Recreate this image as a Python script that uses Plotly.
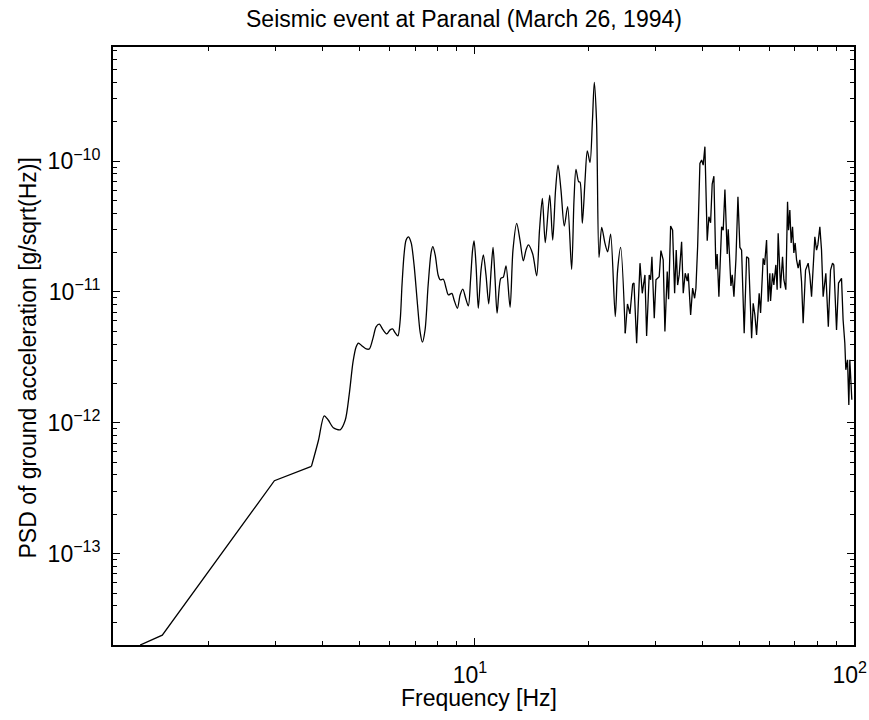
import plotly.graph_objects as go

# Frequency [Hz]
freq_hz = [
    1.32, 1.51, 2.98, 3.73, 3.89, 4.03, 4.13, 4.26, 4.44, 4.58,
    4.69, 4.80, 4.89, 4.96, 5.07, 5.20, 5.30, 5.42, 5.52, 5.63,
    5.76, 5.89, 6.01, 6.10, 6.20, 6.30, 6.39, 6.46, 6.54, 6.62,
    6.72, 6.83, 6.95, 7.08, 7.21, 7.31, 7.43, 7.57, 7.71, 7.79,
    7.90, 8.04, 8.14, 8.30, 8.44, 8.56, 8.74, 8.86, 9.04, 9.19,
    9.34, 9.50, 9.66, 9.79, 9.91, 10.00, 10.12, 10.26, 10.43, 10.58,
    10.75, 10.93, 11.09, 11.22, 11.36, 11.50, 11.76, 11.94, 12.14, 12.44,
    12.66, 12.95, 13.21, 13.48, 13.70, 13.90, 14.27, 14.62, 14.87, 15.13,
    15.40, 15.82, 16.11, 16.39, 16.64, 16.94, 17.28, 17.64, 18.07, 18.33,
    18.55, 18.86, 19.01, 19.28, 19.60, 19.87, 20.20, 20.50, 20.73, 21.01,
    21.33, 21.68, 22.12, 22.48, 22.89, 23.54, 23.88, 24.32, 25.01, 25.35,
    25.73, 26.16, 26.37, 26.80, 27.35, 27.73, 28.18, 28.47, 28.92, 29.17,
    29.40, 29.82, 30.13, 30.73, 31.05, 31.48, 31.81, 32.26, 32.53, 32.93,
    33.33, 33.74, 34.07, 34.36, 34.69, 35.20, 35.55, 35.98, 36.42, 36.64,
    37.18, 37.63, 38.09, 38.39, 38.79, 39.33, 39.74, 40.12, 40.54, 41.11,
    41.53, 41.96, 42.37, 42.81, 43.33, 43.67, 44.13, 44.86, 45.30, 45.77,
    46.41, 46.70, 47.47, 47.84, 48.34, 48.93, 49.53, 50.12, 50.64, 51.44,
    52.20, 52.84, 53.81, 54.33, 54.89, 55.46, 56.34, 56.82, 57.72, 58.21,
    58.92, 59.49, 60.11, 60.36, 61.10, 61.58, 62.33, 62.82, 63.21, 64.13,
    64.91, 65.43, 66.22, 66.91, 67.32, 67.85, 68.39, 68.97, 69.52, 70.07,
    70.67, 71.36, 72.09, 72.84, 73.55, 74.63, 75.82, 76.60, 77.40, 78.24,
    78.96, 79.78, 80.41, 81.39, 82.22, 83.03, 84.40, 85.68, 86.84, 87.90,
    88.59, 90.05, 91.15, 92.82, 93.72, 94.70, 95.27, 96.26, 97.02, 97.61,
    98.38, 98.80,
]

# PSD of ground acceleration [g/sqrt(Hz)]
psd = [
    2.0e-14, 2.38e-14, 3.61e-13, 4.64e-13, 7.29e-13, 1.13e-12, 1.05e-12, 9.16e-13, 8.84e-13, 1.05e-12,
    1.64e-12, 2.92e-12, 3.80e-12, 4.06e-12, 3.87e-12, 3.67e-12, 3.67e-12, 4.46e-12, 5.41e-12, 5.67e-12,
    5.13e-12, 4.78e-12, 5.13e-12, 5.22e-12, 4.86e-12, 4.61e-12, 6.11e-12, 1.13e-11, 1.92e-11, 2.49e-11,
    2.64e-11, 2.37e-11, 1.61e-11, 8.69e-12, 4.95e-12, 4.13e-12, 5.13e-12, 1.13e-11, 2.02e-11, 2.22e-11,
    1.92e-11, 1.35e-11, 1.24e-11, 1.25e-11, 1.07e-11, 9.49e-12, 9.77e-12, 8.69e-12, 7.51e-12, 9.49e-12,
    1.05e-11, 9.0e-12, 7.82e-12, 1.24e-11, 2.09e-11, 2.46e-11, 1.61e-11, 7.51e-12, 1.47e-11, 1.92e-11,
    1.35e-11, 8.10e-12, 1.47e-11, 2.19e-11, 1.24e-11, 6.88e-12, 1.27e-11, 1.30e-11, 1.58e-11, 7.64e-12,
    2.09e-11, 3.35e-11, 2.49e-11, 1.73e-11, 2.09e-11, 2.29e-11, 1.95e-11, 1.33e-11, 2.97e-11, 5.19e-11,
    2.38e-11, 5.50e-11, 2.49e-11, 6.01e-11, 9.32e-11, 6.01e-11, 3.19e-11, 4.48e-11, 1.49e-11, 5.04e-11,
    8.64e-11, 6.95e-11, 6.92e-11, 3.35e-11, 7.16e-11, 1.20e-10, 9.77e-11, 2.06e-10, 3.99e-10, 2.06e-10,
    1.84e-11, 3.12e-11, 2.35e-11, 2.03e-11, 2.77e-11, 6.48e-12, 1.47e-11, 2.19e-11, 4.84e-12, 8.10e-12,
    6.79e-12, 1.15e-11, 1.17e-11, 4.06e-12, 1.66e-11, 9.77e-12, 1.35e-11, 4.61e-12, 1.35e-11, 1.24e-11,
    1.86e-11, 6.30e-12, 1.24e-11, 1.31e-11, 2.07e-11, 1.76e-11, 4.98e-12, 1.43e-11, 8.80e-12, 3.19e-11,
    2.97e-11, 9.77e-12, 2.09e-11, 1.13e-11, 1.35e-11, 2.42e-11, 9.77e-12, 1.39e-11, 1.21e-11, 1.39e-11,
    6.68e-12, 1.07e-11, 8.95e-12, 1.07e-11, 2.22e-11, 9.60e-11, 1.02e-10, 9.32e-11, 1.29e-10, 2.46e-11,
    3.76e-11, 3.38e-11, 6.68e-11, 7.68e-11, 1.49e-11, 1.95e-11, 9.21e-12, 3.15e-11, 2.97e-11, 6.08e-11,
    1.95e-11, 3.01e-11, 1.11e-11, 1.35e-11, 9.21e-12, 1.78e-11, 5.34e-11, 2.19e-11, 2.09e-11, 4.84e-12,
    1.86e-11, 1.81e-11, 4.43e-12, 8.20e-12, 6.68e-12, 4.70e-12, 9.77e-12, 6.92e-12, 1.81e-11, 1.61e-11,
    2.49e-11, 8.43e-12, 1.39e-11, 8.54e-12, 1.39e-11, 1.13e-11, 1.61e-11, 1.04e-11, 2.81e-11, 1.07e-11,
    1.86e-11, 1.24e-11, 1.04e-11, 4.89e-11, 2.97e-11, 4.23e-11, 2.37e-11, 3.15e-11, 1.99e-11, 2.37e-11,
    1.76e-11, 1.52e-11, 1.76e-11, 1.20e-11, 5.77e-12, 1.47e-11, 1.66e-11, 1.33e-11, 9.21e-12, 1.61e-11,
    2.64e-11, 2.09e-11, 2.29e-11, 3.15e-11, 2.09e-11, 9.21e-12, 1.39e-11, 5.43e-12, 1.47e-11, 1.66e-11,
    1.61e-11, 5.13e-12, 1.17e-11, 1.27e-11, 6.11e-12, 4.06e-12, 2.54e-12, 3.03e-12, 1.37e-12, 3.03e-12,
    1.69e-12, 1.50e-12,
]

x_major = [10, 100]
x_major_text = ["10<sup>1</sup>", "10<sup>2</sup>"]
x_minor = [2, 3, 4, 5, 6, 7, 8, 9, 20, 30, 40, 50, 60, 70, 80, 90]

y_major = [1e-13, 1e-12, 1e-11, 1e-10]
y_major_text = ["10<sup>\u221213</sup>", "10<sup>\u221212</sup>",
                "10<sup>\u221211</sup>", "10<sup>\u221210</sup>"]
y_minor = [3e-14, 4e-14, 5e-14, 6e-14, 7e-14, 8e-14, 9e-14,
           2e-13, 3e-13, 4e-13, 5e-13, 6e-13, 7e-13, 8e-13, 9e-13,
           2e-12, 3e-12, 4e-12, 5e-12, 6e-12, 7e-12, 8e-12, 9e-12,
           2e-11, 3e-11, 4e-11, 5e-11, 6e-11, 7e-11, 8e-11, 9e-11,
           2e-10, 3e-10, 4e-10, 5e-10, 6e-10, 7e-10]

title_text = "Seismic event at Paranal (March 26, 1994)"
x_title = "Frequency [Hz]"
y_title = "PSD of ground acceleration [g/sqrt(Hz)]"

FONT = "Liberation Sans, Arial, Helvetica, sans-serif"
FS = 23

# segments: straight low-frequency part, smooth mid part, jagged high part
i_a, i_b = 3, 108
line_style = dict(color="black", width=1.3)

fig = go.Figure()
fig.add_trace(go.Scatter(x=freq_hz[:i_a + 1], y=psd[:i_a + 1], mode="lines",
                         line=line_style))
fig.add_trace(go.Scatter(x=freq_hz[i_a:i_b + 1], y=psd[i_a:i_b + 1], mode="lines",
                         line=dict(line_style, shape="spline", smoothing=0.8)))
fig.add_trace(go.Scatter(x=freq_hz[i_b:], y=psd[i_b:], mode="lines",
                         line=line_style))

axis_common = dict(
    type="log", ticks="inside", ticklen=7, tickwidth=1, tickcolor="black",
    showline=True, linecolor="black", linewidth=1.8, mirror="allticks",
    showgrid=False, zeroline=False, ticklabeloverflow="allow", automargin=False,
    tickfont=dict(family=FONT, size=FS, color="black"),
)

fig.update_layout(
    width=869, height=720,
    margin=dict(l=113, r=15, t=47, b=75, autoexpand=False),
    paper_bgcolor="white", plot_bgcolor="white", showlegend=False,
    font=dict(family=FONT, size=FS, color="black"),
    title=dict(text=title_text, x=(246 - 113) / 741, xref="paper", xanchor="left",
               y=1 - 19 / 720, yref="container", yanchor="middle",
               font=dict(family=FONT, size=FS, color="black")),
    xaxis=dict(axis_common, range=[0.0492, 2.0005], tickvals=x_major,
               ticktext=x_major_text, ticklabelstandoff=8, ticklabelshift=-4,
               minor=dict(tickvals=x_minor, ticks="inside", ticklen=4,
                          tickwidth=1, tickcolor="black", showgrid=False)),
    yaxis=dict(axis_common, range=[-13.6985, -9.1275], tickvals=y_major,
               ticktext=y_major_text, ticklabelstandoff=6,
               minor=dict(tickvals=y_minor, ticks="inside", ticklen=4,
                          tickwidth=1, tickcolor="black", showgrid=False)),
    annotations=[
        dict(text=x_title, xref="paper", yref="paper", x=(399 - 113) / 741,
             y=(645 - 698) / 598, xanchor="left", yanchor="middle",
             showarrow=False, font=dict(family=FONT, size=FS, color="black")),
        dict(text=y_title, xref="paper", yref="paper", x=(27 - 113) / 741,
             y=(645 - 561) / 598, xanchor="center", yanchor="bottom",
             textangle=-90, showarrow=False,
             font=dict(family=FONT, size=FS, color="black")),
    ],
)

fig.write_html("out.html")
